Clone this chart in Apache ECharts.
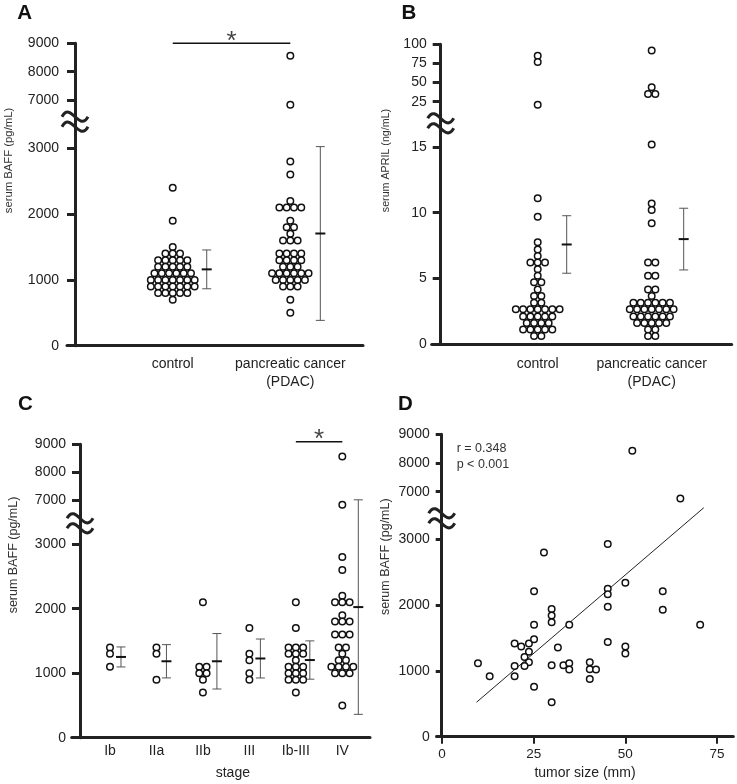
<!DOCTYPE html>
<html><head><meta charset="utf-8">
<script src="https://cdn.jsdelivr.net/npm/echarts@6/dist/echarts.min.js"></script>
<style>html,body{margin:0;padding:0;background:#fff}#c{width:737px;height:784px}</style>
</head><body><div id="c"></div>
<script>
// ---------------- data ----------------
const groupsAB = ['control', 'pancreatic cancer\n(PDAC)'];
const stages = ['Ib', 'IIa', 'IIb', 'III', 'Ib-III', 'IV'];

const baffTicksUpper = [7000, 8000, 9000];
const baffTicksLower = [0, 1000, 2000, 3000];
const aprilTicksUpper = [25, 50, 75, 100];
const aprilTicksLower = [0, 5, 10, 15];
const sizeTicks = [0, 25, 50, 75];

// Panel A: serum BAFF (pg/mL)
const baffControl = [2400, 1900, 1500,
  1400, 1400, 1400,
  1300, 1300, 1300, 1300, 1300,
  1200, 1200, 1200, 1200, 1200,
  1100, 1100, 1100, 1100, 1100, 1100,
  1000, 1000, 1000, 1000, 1000, 1000, 1000,
  900, 900, 900, 900, 900, 900, 900,
  800, 800, 800, 800, 800,
  700];
const baffPdac = [8560, 6830, 2800, 2600, 2200,
  2100, 2100, 2100, 2100, 1900, 1800, 1800, 1700, 1600, 1600, 1600,
  1400, 1400, 1400, 1400, 1300, 1300, 1300, 1300, 1200, 1200, 1200,
  1100, 1100, 1100, 1100, 1100, 1100,
  1000, 1000, 1000, 1000, 1000,
  900, 900, 900, 700, 500];
const baffMeanAB = [1160, 1705];
const baffSdAB = [295, 1320];

// Panel B: serum APRIL (ng/mL)
const aprilControl = [85, 77, 21, 11.1, 9.7, 7.75, 7.2, 6.7, 6.2, 6.2, 6.2, 5.7, 5.2, 4.7, 4.7, 4.15,
  3.65, 3.65, 3.15, 3.15,
  2.65, 2.65, 2.65, 2.65, 2.65, 2.65, 2.65,
  2.1, 2.1, 2.1, 2.1, 2.1,
  1.6, 1.6, 1.6, 1.6,
  1.1, 1.1, 1.1, 1.1, 1.1,
  0.6, 0.6];
const aprilPdac = [92, 44, 35, 35, 15.2, 10.7, 10.2, 9.2, 6.2, 6.2, 5.2, 5.2, 4.15, 4.15, 3.65,
  3.15, 3.15, 3.15, 3.15, 3.15, 3.15,
  2.65, 2.65, 2.65, 2.65, 2.65, 2.65, 2.65,
  2.1, 2.1, 2.1, 2.1, 2.1, 2.1,
  1.6, 1.6, 1.6, 1.6, 1.6,
  1.1, 1.1, 0.6, 0.6];
const aprilMean = [7.58, 7.99];
const aprilSd = [2.19, 2.35];

// Panel C: serum BAFF by stage
const baffIb = [1400, 1300, 1100];
const baffIIa = [1400, 1300, 900];
const baffIIb = [2100, 1100, 1100, 1000, 1000, 900, 700];
const baffIII = [1700, 1300, 1200, 1000, 900];
const baffIbIII = [2100, 1700, 1400, 1400, 1400, 1300, 1300, 1300, 1200,
  1100, 1100, 1100, 1000, 1000, 1000, 900, 900, 900, 700];
const baffIV = [8560, 6830, 2800, 2600, 2200, 2100, 2100, 2100, 1900, 1800, 1800, 1800,
  1600, 1600, 1600, 1400, 1400, 1300, 1200, 1200, 1100, 1100, 1100, 1100,
  1000, 1000, 1000, 500];
const stageMean = [1252, 1185, 1185, 1228, 1204, 2025];
const stageSd = [155, 258, 430, 302, 297, 1663];

// Panel D: tumor size vs BAFF
const tumorSize = [51.9, 65.0, 45.2, 27.8, 50.0, 45.2, 45.2, 60.2, 25.1, 45.2, 60.2, 29.9, 29.9, 29.9,
  34.7, 25.1, 70.4, 45.2, 19.8, 21.6, 23.7, 25.1, 31.6, 23.7, 22.5, 23.7, 22.5, 19.8, 9.8, 13.0,
  19.8, 25.1, 29.9, 29.9, 33.1, 34.7, 34.7, 40.3, 40.3, 42.0, 40.3, 50.0, 50.0];
const tumorBaff = [8430, 6760, 2930, 2800, 2340, 2250, 2165, 2210, 2210, 1975, 1930, 1940, 1840, 1740,
  1700, 1700, 1700, 1440, 1415, 1370, 1415, 1480, 1355, 1290, 1210, 1130, 1075, 1075, 1115, 920,
  920, 760, 525, 1085, 1085, 1115, 1020, 1130, 1025, 1020, 875, 1370, 1265];
const trendSize = [9.4, 71.4];
const trendBaff = [523, 3480];

// significance bars (category pair, level)
const sigPairAB = [0, 1];
const sigLevelAB = 9000;
const sigPairStage = [4, 5];
const sigLevelStage = 9093;

// ---------------- style / layout ----------------
const FONT = "'Liberation Sans', Arial, Helvetica, sans-serif";
const INK = '#222';
const DOT_STEP = 7.3;
const plain = v => String(v);

const grids = [], xAxes = [], yAxes = [], series = [], graphics = [];

function yax(gi, min, max, ticks, p) {
  return {
    gridIndex: gi, type: 'value', min: min, max: max, offset: p.yOffset,
    axisLine: {show: true, onZero: false, lineStyle: {color: INK, width: 3}},
    axisTick: {show: true, customValues: ticks, length: p.tickLen, lineStyle: {color: INK, width: 3}},
    axisLabel: {customValues: ticks, formatter: plain, margin: p.labelMargin, fontSize: 14, color: INK, fontFamily: FONT},
    splitLine: {show: false}
  };
}

function addPanel(p) {
  const gi = grids.length;
  grids.push({left: p.left, top: p.top, width: p.width, height: p.breakY - p.top, outerBoundsMode: 'none', containLabel: false});
  grids.push({left: p.left, top: p.breakY, width: p.width, height: p.bottom - p.breakY, outerBoundsMode: 'none', containLabel: false});
  xAxes.push({gridIndex: gi, type: 'value', min: p.xMin, max: p.xMax, show: false});
  xAxes.push(Object.assign({
    gridIndex: gi + 1, type: 'value', min: p.xMin, max: p.xMax,
    axisLine: {show: true, onZero: false, lineStyle: {color: INK, width: 3}},
    splitLine: {show: false}
  }, p.xAxis));
  yAxes.push(yax(gi, p.upperMin, p.upperMax, p.upperTicks, p));
  yAxes.push(yax(gi + 1, 0, p.lowerMax, p.lowerTicks, p));
  graphics.push(wave(p.left - p.yOffset, p.breakY));
  return gi;
}

function wave(cx, cy) {
  const mk = dy => ({type: 'bezierCurve', z: 100,
    shape: {x1: cx - 13, y1: cy + dy, cpx1: cx - 4, cpy1: cy + dy - 16, cpx2: cx + 4, cpy2: cy + dy + 16, x2: cx + 13, y2: cy + dy},
    style: {fill: 'none', stroke: INK, lineWidth: 3}});
  return {type: 'group', children: [mk(-5), mk(5)]};
}

function dotSeries(gi, data) {
  return {type: 'scatter', xAxisIndex: gi, yAxisIndex: gi, data: data, symbol: 'circle', symbolSize: 6.5,
    itemStyle: {color: '#fff', borderColor: '#111', borderWidth: 1.5, opacity: 1}, silent: true, clip: false, z: 3};
}

function addSwarms(gi, groups, lowerMax) {
  const up = [], lo = [];
  groups.forEach((vals, ci) => {
    const cnt = {}, seen = {};
    vals.forEach(v => cnt[v] = (cnt[v] || 0) + 1);
    vals.forEach(v => {
      const k = seen[v] || 0; seen[v] = k + 1;
      const item = {value: [ci, v], symbolOffset: [(k - (cnt[v] - 1) / 2) * DOT_STEP, 0]};
      (v > lowerMax ? up : lo).push(item);
    });
  });
  series.push(dotSeries(gi, up), dotSeries(gi + 1, lo));
}

function addErrorBars(gi, means, sds, offsets) {
  series.push({
    type: 'custom', xAxisIndex: gi + 1, yAxisIndex: gi + 1, clip: false, silent: true, z: 2,
    data: means.map((m, i) => [i, m, sds[i]]),
    encode: {x: 0, y: 1},
    renderItem: function (params, api) {
      const i = api.value(0), m = api.value(1), s = api.value(2);
      const pm = api.coord([i, m]), pl = api.coord([i, m - s]), ph = api.coord([i, m + s]);
      const x = pm[0] + offsets[params.dataIndex];
      const g = {stroke: '#555', lineWidth: 1};
      return {type: 'group', children: [
        {type: 'line', shape: {x1: x, y1: pl[1], x2: x, y2: ph[1]}, style: g},
        {type: 'line', shape: {x1: x - 4.5, y1: pl[1], x2: x + 4.5, y2: pl[1]}, style: g},
        {type: 'line', shape: {x1: x - 4.5, y1: ph[1], x2: x + 4.5, y2: ph[1]}, style: g},
        {type: 'line', shape: {x1: x - 5, y1: pm[1], x2: x + 5, y2: pm[1]}, style: {stroke: '#111', lineWidth: 2}}
      ]};
    }
  });
}

function addSig(gi, pair, level) {
  series.push({type: 'line', xAxisIndex: gi, yAxisIndex: gi, data: [[pair[0], level], [pair[1], level]],
    symbol: 'none', clip: false, silent: true, lineStyle: {color: '#111', width: 1.5}});
  series.push({type: 'scatter', xAxisIndex: gi, yAxisIndex: gi, data: [[(pair[0] + pair[1]) / 2, level]],
    symbolSize: 1, clip: false, silent: true, itemStyle: {color: 'transparent'},
    label: {show: true, formatter: '*', position: 'inside', offset: [0, -1.5], fontSize: 26, color: '#111', fontFamily: FONT}});
}

function catXAxis(names, margin, lh) {
  return {
    axisTick: {show: false},
    axisLabel: {customValues: names.map((n, i) => i), formatter: v => names[Math.round(v)],
      margin: margin, fontSize: 14, color: INK, fontFamily: FONT, lineHeight: lh, align: 'center'}
  };
}

function text(t, x, y, size, opts) {
  return Object.assign({type: 'text', x: x, y: y, z: 100, style: {
    text: t, fontSize: size, fontFamily: FONT, fill: (opts && opts.fill) || '#222',
    fontWeight: (opts && opts.bold) ? 'bold' : 'normal',
    align: (opts && opts.align) || 'left', textAlign: (opts && opts.align) || 'left',
    verticalAlign: 'middle', textVerticalAlign: 'middle'}}, (opts && opts.rot) ? {rotation: Math.PI / 2} : {});
}

// ---------- Panel A ----------
const gA = addPanel({left: 67, width: 296, top: 43.3, breakY: 121.7, bottom: 345.7,
  xMin: -0.899, xMax: 1.618, upperMin: 6235, upperMax: 9000, lowerMax: 3404,
  upperTicks: baffTicksUpper, lowerTicks: baffTicksLower, yOffset: -8, tickLen: 8, labelMargin: 16,
  xAxis: catXAxis(groupsAB, 9, 18)});
addSwarms(gA, [baffControl, baffPdac], 3404);
addErrorBars(gA, baffMeanAB, baffSdAB, [34, 30]);
addSig(gA, sigPairAB, sigLevelAB);

// ---------- Panel B ----------
const gB = addPanel({left: 431.7, width: 300, top: 44.3, breakY: 123.3, bottom: 344,
  xMin: -0.93, xMax: 1.702, upperMin: -3.2, upperMax: 100, lowerMax: 16.81,
  upperTicks: aprilTicksUpper, lowerTicks: aprilTicksLower, yOffset: -9, tickLen: 8, labelMargin: 14,
  xAxis: catXAxis(groupsAB, 11, 18)});
addSwarms(gB, [aprilControl, aprilPdac], 16.81);
addErrorBars(gB, aprilMean, aprilSd, [29, 32]);

// ---------- Panel C ----------
const cX = catXAxis(stages, 5, 16);
cX.name = 'stage'; cX.nameLocation = 'middle'; cX.nameGap = 28;
cX.nameTextStyle = {fontSize: 14, color: INK, fontFamily: FONT, padding: [0, 0, 0, 24]};
const gC = addPanel({left: 71.7, width: 298.3, top: 444.3, breakY: 523.3, bottom: 737.7,
  xMin: -0.824, xMax: 5.596, upperMin: 6163, upperMax: 9000, lowerMax: 3324,
  upperTicks: baffTicksUpper, lowerTicks: baffTicksLower, yOffset: -8.3, tickLen: 8, labelMargin: 14,
  xAxis: cX});
addSwarms(gC, [baffIb, baffIIa, baffIIb, baffIII, baffIbIII, baffIV], 3324);
addErrorBars(gC, stageMean, stageSd, [11, 10, 14, 11, 14, 16]);
addSig(gC, sigPairStage, sigLevelStage);

// ---------- Panel D ----------
const gD = addPanel({left: 436.7, width: 296.6, top: 434.3, breakY: 518.3, bottom: 736.7,
  xMin: -1.45, xMax: 79.44, upperMin: 6073, upperMax: 9000, lowerMax: 3319,
  upperTicks: baffTicksUpper, lowerTicks: baffTicksLower, yOffset: -5, tickLen: 6, labelMargin: 12,
  xAxis: {
    name: 'tumor size (mm)', nameLocation: 'middle', nameGap: 29,
    nameTextStyle: {fontSize: 14, color: INK, fontFamily: FONT},
    axisTick: {show: true, customValues: sizeTicks, length: 7, lineStyle: {color: INK, width: 2}},
    axisLabel: {customValues: sizeTicks, formatter: plain, margin: 11, fontSize: 13.5, color: INK, fontFamily: FONT}
  }});
const dUp = [], dLo = [];
tumorSize.forEach((s, i) => (tumorBaff[i] > 3319 ? dUp : dLo).push([s, tumorBaff[i]]));
series.push(dotSeries(gD, dUp), dotSeries(gD + 1, dLo));
series.push({type: 'line', xAxisIndex: gD + 1, yAxisIndex: gD + 1, clip: false, silent: true, symbol: 'none',
  data: trendSize.map((s, i) => [s, trendBaff[i]]), lineStyle: {color: '#222', width: 1}, z: 1});

// ---------- texts ----------
graphics.push(text('A', 17.3, 13.4, 20.5, {bold: true, fill: '#111'}));
graphics.push(text('B', 401.5, 13.4, 20.5, {bold: true, fill: '#111'}));
graphics.push(text('C', 18, 404.4, 20.5, {bold: true, fill: '#111'}));
graphics.push(text('D', 398, 404.4, 20.5, {bold: true, fill: '#111'}));
graphics.push(text('serum BAFF (pg/mL)', 9, 160.5, 11.3, {rot: true, align: 'center', fill: '#333'}));
graphics.push(text('serum APRIL (ng/mL)', 386, 160.5, 10.7, {rot: true, align: 'center', fill: '#333'}));
graphics.push(text('serum BAFF (pg/mL)', 13.5, 555, 12.5, {rot: true, align: 'center', fill: '#333'}));
graphics.push(text('serum BAFF (pg/mL)', 385.5, 556.7, 12.5, {rot: true, align: 'center', fill: '#333'}));
graphics.push(text('r = 0.348', 456.7, 448.3, 12.5, {fill: '#333'}));
graphics.push(text('p < 0.001', 456.7, 464.5, 12.5, {fill: '#333'}));

const chart = echarts.init(document.getElementById('c'), null, {renderer: 'canvas'});
chart.setOption({
  animation: false,
  backgroundColor: '#fff',
  grid: grids, xAxis: xAxes, yAxis: yAxes, series: series, graphic: graphics
});
</script>
</body></html>
